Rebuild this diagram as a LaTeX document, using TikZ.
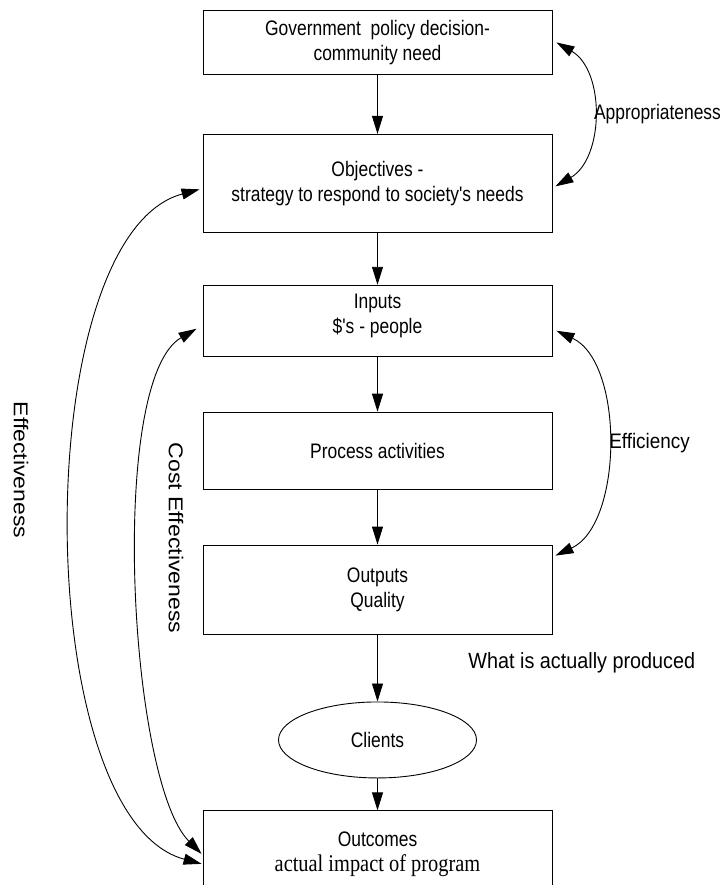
\documentclass[tikz,border=0pt]{standalone}
\usepackage{fontspec}
\setmainfont{Liberation Sans}
\newfontfamily\narrowsans[FakeStretch=0.83]{Liberation Sans}
\newfontfamily\labelsans[FakeStretch=0.9]{Liberation Sans}
\newfontfamily\narrowserif[FakeStretch=0.85]{Liberation Serif}
\newfontfamily\widesans[FakeStretch=1.15]{Liberation Sans}
\usetikzlibrary{arrows.meta,positioning,calc,shapes.geometric}

\begin{document}
\begin{tikzpicture}[x=1pt, y=1pt, line width=0.9pt,
  >={Triangle[length=18pt,width=11pt]},
  box/.style={draw, minimum width=349pt, align=center, inner sep=2pt, font=\narrowsans\fontsize{21}{25}\selectfont},
  client/.style={draw, ellipse, minimum width=198pt, minimum height=76pt, inner sep=0pt, font=\narrowsans\fontsize{21}{25}\selectfont},
  sidelabel/.style={font=\labelsans\fontsize{21}{25}\selectfont, inner sep=2pt},
  turned/.style={font=\widesans\fontsize{20}{24}\selectfont, rotate=-90, inner sep=0pt}]
\useasboundingbox (0,0) rectangle (725,-885);
\node[box, minimum height=64pt, anchor=north] (gov) at (377.5,-10) {Government\ \ policy decision-\\community need};
\node[box, minimum height=98pt, below=59pt of gov] (obj) {Objectives -\\strategy to respond to society's needs};
\node[box, minimum height=71pt, text depth=14pt, below=52pt of obj] (inputs) {Inputs\\\$'s - people};
\node[box, minimum height=77pt, below=55pt of inputs] (process) {Process activities};
\node[box, minimum height=89pt, below=55pt of process] (outputs) {Outputs\\Quality};
\node[client, below=67pt of outputs] (clients) {Clients};
\node[box, minimum height=86pt, below=32pt of clients] (outcomes) {Outcomes\\{\narrowserif\fontsize{24}{28}\selectfont actual impact of program}};
\path[->]
(gov) edge (obj)
(obj) edge (inputs)
(inputs) edge (process)
(process) edge (outputs)
(outputs) edge (clients)
(clients) edge (outcomes)
;
\path[<->]
([xshift=4pt]gov.east) edge[out=-30, in=30] node[sidelabel, font=\narrowsans\fontsize{21}{25}\selectfont, inner sep=1pt, right, name=appr] {Appropriateness} ([shift={(3pt,-3pt)}]obj.east)
([shift={(4pt,-10pt)}]inputs.east) edge[out=-25, in=25, looseness=0.85] node[sidelabel, right, name=effic] {Efficiency} ([shift={(3pt,-11pt)}]outputs.north east)
([shift={(-3pt,-6pt)}]obj.west) edge[out=195, in=165, looseness=0.675] ([shift={(-1pt,-10pt)}]outcomes.west)
([shift={(-6pt,-8pt)}]inputs.west) edge[out=210, in=135, looseness=0.5] ([shift={(-1pt,0pt)}]outcomes.west)
;
\node[turned] (eff) at (21,-470) {Effectiveness};
\node[turned] (costeff) at (176,-538) {Cost Effectiveness};
\node[font=\labelsans\fontsize{22}{26}\selectfont, inner sep=2pt, anchor=west] (produced) at (466,-663) {What is actually produced};
\end{tikzpicture}
\end{document}
